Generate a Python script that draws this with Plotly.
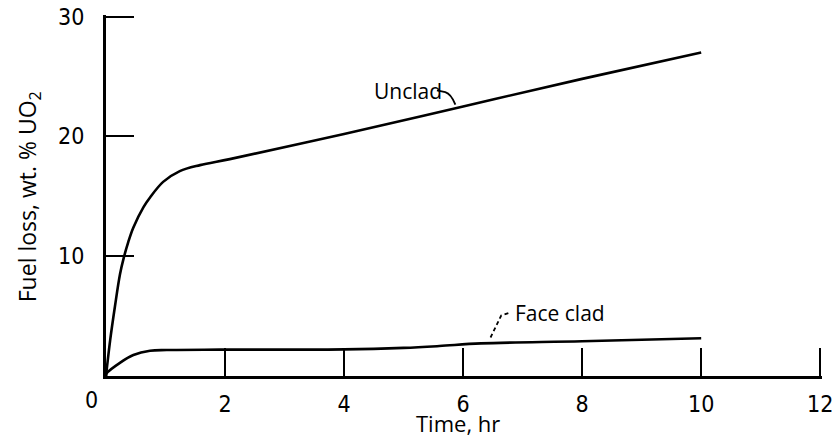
import plotly.graph_objects as go

# Fuel loss vs. time, unclad and face-clad specimens
unclad_t = [0, 0.07, 0.15, 0.235, 0.30, 0.375, 0.46, 0.63, 0.74, 0.96, 1.24, 1.58, 2.08, 4, 6, 8, 10]
unclad_loss = [0, 3.0, 5.8, 8.5, 9.9, 11.2, 12.4, 14.1, 14.9, 16.2, 17.1, 17.6, 18.1, 20.2, 22.5, 24.8, 27.0]

clad_t = [0, 0.01, 0.24, 0.46, 0.74, 1.02, 1.92, 4, 5, 5.6, 6.3, 8, 10]
clad_loss = [0, 0.22, 1.12, 1.75, 2.11, 2.17, 2.2, 2.22, 2.35, 2.5, 2.72, 2.9, 3.15]

x_ticks = [2, 4, 6, 8, 10, 12]
y_ticks = [10, 20, 30]

TEXT_FONT = "Open Sans, Noto Sans, DejaVu Sans"
DIGIT_FONT = "Liberation Sans Narrow, DejaVu Sans Condensed, Liberation Sans"

fig = go.Figure()
line_style = dict(color="black", width=2.6, shape="spline", smoothing=1.0)
fig.add_trace(go.Scatter(x=unclad_t, y=unclad_loss, mode="lines", line=line_style, name="Unclad"))
fig.add_trace(go.Scatter(x=clad_t, y=clad_loss, mode="lines", line=line_style, name="Face clad"))

axis_common = dict(
    showline=True, linecolor="black", linewidth=3, mirror=False,
    showgrid=False, zeroline=False, ticks="inside", ticklen=28,
    tickwidth=2, tickcolor="black", ticklabeloverflow="allow",
)
# ranges nudged just past the last tick so the end ticks are drawn
fig.update_xaxes(range=[0, 12.03], tickvals=x_ticks, ticktext=[str(v) for v in x_ticks],
                 tickfont=dict(family=DIGIT_FONT, size=23, color="black"),
                 ticklabelstandoff=5, **axis_common)
fig.update_yaxes(range=[0, 30.13], tickvals=y_ticks, ticktext=[str(v) for v in y_ticks],
                 tickfont=dict(family=DIGIT_FONT, size=23, color="black"),
                 ticklabelstandoff=14, **axis_common)

annotations = [
    # origin label
    dict(x=0, y=0, xref="x", yref="y", text="0", showarrow=False,
         xanchor="center", yanchor="middle", xshift=-15, yshift=-24,
         font=dict(family=DIGIT_FONT, size=23, color="black")),
    # axis titles
    dict(x=0.4916, y=0, xref="paper", yref="paper", text="Time, hr", showarrow=False,
         xanchor="center", yanchor="middle", yshift=-47,
         font=dict(family=TEXT_FONT, size=22, color="black")),
    dict(x=-0.108, y=0.497, xref="paper", yref="paper", text="Fuel loss, wt. % UO<sub>2</sub>",
         showarrow=False, textangle=-90, xanchor="center", yanchor="middle",
         font=dict(family=TEXT_FONT, size=23, color="black")),
    # curve labels
    dict(x=5.07, y=23.8, xref="x", yref="y", text="Unclad", showarrow=False,
         xanchor="center", yanchor="middle",
         font=dict(family=TEXT_FONT, size=21, color="black")),
    dict(x=7.63, y=5.25, xref="x", yref="y", text="Face clad", showarrow=False,
         xanchor="center", yanchor="middle",
         font=dict(family=TEXT_FONT, size=21, color="black")),
]

shapes = [
    # leader from "Unclad" to its curve
    dict(type="path", xref="x", yref="y",
         path="M 5.56,23.83 L 5.70,23.70 Q 5.80,23.55 5.87,22.65",
         line=dict(color="black", width=1.8)),
    # dashed leader from "Face clad" to its curve
    dict(type="path", xref="x", yref="y",
         path="M 6.76,5.25 L 6.64,5.05 L 6.45,3.1",
         line=dict(color="black", width=1.8, dash="4px,3px")),
]

fig.update_layout(
    width=832, height=438,
    margin=dict(l=106, r=10, t=15, b=62, autoexpand=False),
    plot_bgcolor="white", paper_bgcolor="white",
    showlegend=False,
    annotations=annotations, shapes=shapes,
)

fig.write_html("out.html")
